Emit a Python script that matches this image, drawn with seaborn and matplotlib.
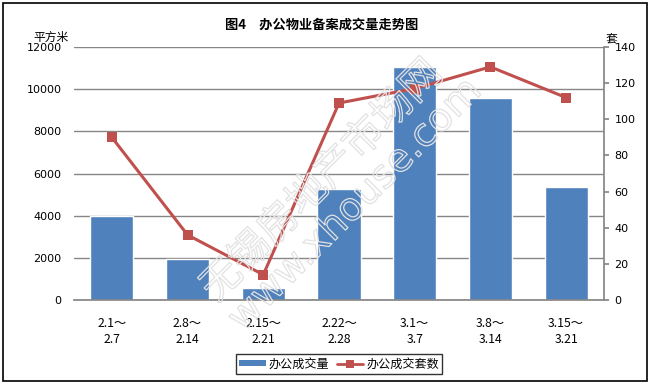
import numpy as np
import pandas as pd
import seaborn as sns
import matplotlib.pyplot as plt
import matplotlib.patheffects as pe
from matplotlib.patches import Patch, Rectangle
from matplotlib.lines import Line2D

# 数据
periods = ['2.1～\n2.7', '2.8～\n2.14', '2.15～\n2.21', '2.22～\n2.28',
           '3.1～\n3.7', '3.8～\n3.14', '3.15～\n3.21']
area = [3970, 1950, 570, 5270, 11050, 9580, 5360]   # 办公成交量 (平方米)
units = [90, 36, 14, 109, 117, 129, 112]             # 办公成交套数 (套)

sns.set_theme(style='white')
plt.rcParams['font.family'] = ['Noto Sans CJK SC', 'DejaVu Sans']
plt.rcParams['text.color'] = 'black'

bar_color = '#4F81BD'
line_color = '#C0504D'
grid_color = '#868686'

df = pd.DataFrame({'period': periods, 'area': area, 'units': units})

fig = plt.figure(figsize=(6.51, 3.85), dpi=100)
ax = fig.add_axes([74 / 651, 1 - 300 / 385, 530 / 651, 253 / 385])

sns.barplot(data=df, x='period', y='area', color=bar_color, width=0.57,
            saturation=1, ax=ax, zorder=2)
ax.set_ylim(0, 12000)
ax.set_yticks(np.arange(0, 12001, 2000))
ax.yaxis.grid(True, color=grid_color, linewidth=1)
ax.set_axisbelow(True)
ax.set_xlabel('')
ax.set_ylabel('')
for s in ['left', 'top', 'right']:
    ax.spines[s].set_visible(False)
ax.spines['bottom'].set_color(grid_color)
ax.tick_params(axis='y', labelsize=8, length=0, pad=9, labelcolor='black')
ax.tick_params(axis='x', labelsize=8.8, length=0, pad=12, labelcolor='black')
for lab in ax.get_yticklabels():
    lab.set_family('DejaVu Sans')
for lab in ax.get_xticklabels():
    lab.set_linespacing(1.3)

ax2 = ax.twinx()
sns.lineplot(x=np.arange(len(periods)), y=units, color=line_color, marker='s',
             markersize=6.8, markeredgewidth=0, linewidth=2.2, ax=ax2, zorder=3)
ax2.set_ylim(0, 140)
ax2.set_yticks(np.arange(0, 141, 20))
ax.set_xlim(-0.5, len(periods) - 0.5)
ax2.set_xlim(-0.5, len(periods) - 0.5)
for s in ['left', 'top', 'bottom']:
    ax2.spines[s].set_visible(False)
ax2.spines['right'].set_color(grid_color)
ax2.tick_params(axis='y', labelsize=8, length=3.5, color=grid_color, right=True,
                pad=4, labelcolor='black')
for lab in ax2.get_yticklabels():
    lab.set_family('DejaVu Sans')

fig.text(322 / 651, 1 - 25 / 385, '图4　办公物业备案成交量走势图', ha='center',
         va='center', fontsize=9.5, fontweight='bold')
fig.text(33 / 651, 1 - 37 / 385, '平方米', ha='left', va='center', fontsize=8.5)
fig.text(606 / 651, 1 - 40 / 385, '套', ha='left', va='center', fontsize=8.5)

# 水印
wm = [pe.Stroke(linewidth=0.9, foreground='#e2e2e2')]
fig.text(322 / 651, 1 - 181 / 385, '无锡房地产市场网', ha='center', va='center',
         rotation=45, fontsize=29, color='none', path_effects=wm, zorder=5)
fig.text(355 / 651, 1 - 205 / 385, 'www.xhouse.com', ha='center', va='center',
         rotation=45, fontsize=28, color='none', path_effects=wm, zorder=5,
         family='DejaVu Sans')

handles = [Patch(facecolor=bar_color, edgecolor='none'),
           Line2D([], [], color=line_color, marker='s', markersize=6,
                  markeredgewidth=0, linewidth=2)]
fig.legend(handles, ['办公成交量', '办公成交套数'], loc='center',
           bbox_to_anchor=(339 / 651, 1 - 364 / 385), ncol=2, fontsize=8.7,
           frameon=True, fancybox=False, edgecolor='black', handlelength=2.2,
           handleheight=0.45, handletextpad=0.25, columnspacing=0.6,
           borderpad=0.25, borderaxespad=0)
fig.legends[0].get_frame().set_linewidth(1)

fig.patches.append(Rectangle((3 / 651, 4 / 385), 644 / 651, 378 / 385,
                             transform=fig.transFigure, fill=False,
                             edgecolor='black', linewidth=1.2))

fig.savefig('out.png', dpi=100)
